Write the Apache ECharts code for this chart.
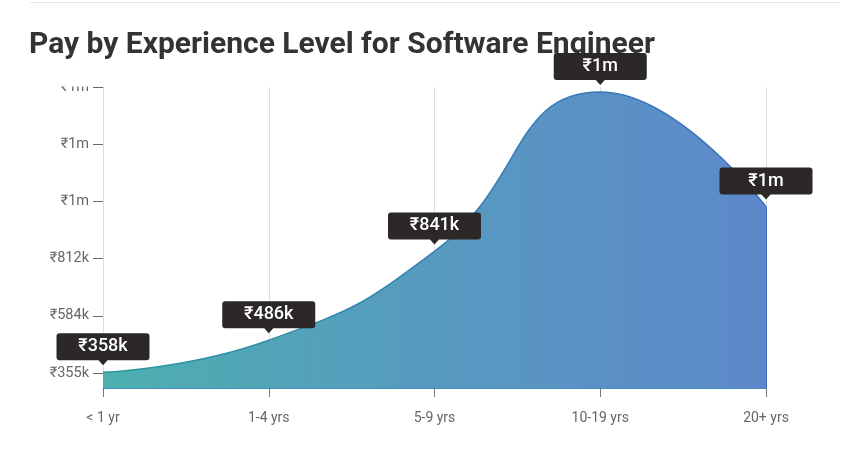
<!DOCTYPE html>
<html>
<head>
<meta charset="utf-8">
<script src="https://cdn.jsdelivr.net/npm/echarts@6/dist/echarts.min.js"></script>
<style>html,body{margin:0;padding:0;background:#fff}#c{width:858px;height:455px}</style>
</head>
<body>
<div id="c"></div>
<script>
const categories = ["< 1 yr", "1-4 yrs", "5-9 yrs", "10-19 yrs", "20+ yrs"];
const payK = [358, 486, 841, 1478, 1020];
const payLabels = ["₹358k", "₹486k", "₹841k", "₹1m", "₹1m"];
const yTickValues = [355, 583.6, 812.2, 1040.8, 1269.4, 1498];
const yTickLabels = ["₹355k", "₹584k", "₹812k", "₹1m", "₹1m", "₹1m"];

const chart = echarts.init(document.getElementById('c'), null, {renderer: 'canvas'});
const fillGrad = new echarts.graphic.LinearGradient(0, 0, 1, 0, [
  {offset: 0, color: '#43abaa'},
  {offset: 0.5, color: '#4e94bd'},
  {offset: 1, color: '#5482c7'}
]);
const lineGrad = new echarts.graphic.LinearGradient(0, 0, 1, 0, [
  {offset: 0, color: '#2b9a9c'},
  {offset: 0.5, color: '#347fb2'},
  {offset: 1, color: '#3a6fbd'}
]);
const bubble = 'path://M3,0 H90 Q93,0 93,3 V24 Q93,27 90,27 H51 L46.5,32 L42,27 H3 Q0,27 0,24 V3 Q0,0 3,0 Z';

chart.setOption({
  animation: false,
  textStyle: {fontFamily: 'Roboto, "Noto Sans", sans-serif'},
  title: {
    text: 'Pay by Experience Level for Software Engineer',
    left: 24, top: 25, z: 0,
    textStyle: {fontSize: 30, fontWeight: 'bold', color: '#333', fontFamily: 'Roboto, "Noto Sans", sans-serif'}
  },
  graphic: [
    {type: 'line', z: 0, shape: {x1: 30, y1: 2.5, x2: 840, y2: 2.5}, style: {stroke: '#e8e8e8', lineWidth: 1}},
    {type: 'rect', z: 50, left: 36, top: 68, shape: {width: 64, height: 18.5}, style: {fill: '#fff'}}
  ],
  grid: {left: 103, right: 92, top: 87, bottom: 67},
  xAxis: {
    type: 'category',
    data: categories,
    boundaryGap: false,
    axisLine: {show: true, lineStyle: {color: '#4a8fbb', width: 1}},
    axisTick: {show: true, alignWithLabel: true, length: 9, lineStyle: {color: '#777'}},
    axisLabel: {color: '#666', fontSize: 14, margin: 23},
    splitLine: {show: true, lineStyle: {color: '#ddd', width: 1}}
  },
  yAxis: {
    type: 'value',
    min: 295, max: 1498,
    axisLine: {show: true, lineStyle: {color: '#ddd'}},
    axisTick: {show: true, length: 10, customValues: yTickValues, lineStyle: {color: '#666'}},
    axisLabel: {
      color: '#666', fontSize: 14.5, margin: 14,
      customValues: yTickValues,
      formatter: function (v) {
        let best = 0;
        for (let i = 0; i < yTickValues.length; i++) if (Math.abs(yTickValues[i] - v) < Math.abs(yTickValues[best] - v)) best = i;
        return yTickLabels[best];
      }
    },
    splitLine: {show: false}
  },
  series: [
    {
      type: 'line',
      data: payK,
      smooth: 0.5,
      symbol: 'none',
      z: 2,
      lineStyle: {color: lineGrad, width: 1.5},
      areaStyle: {color: fillGrad, opacity: 0.95},
      markLine: {
        silent: true, symbol: 'none', label: {show: false},
        lineStyle: {color: '#3a6fbd', width: 1, type: 'solid'},
        data: [[{coord: [categories[4], 295]}, {coord: [categories[4], payK[4]]}]]
      }
    },
    {
      type: 'scatter',
      data: payK,
      clip: false,
      z: 10,
      symbol: bubble,
      symbolSize: [93, 32],
      symbolOffset: [0, -23],
      itemStyle: {color: '#2b2827', opacity: 1},
      label: {
        show: true, position: 'inside', offset: [0, -2.5],
        color: '#fff', fontSize: 18, fontWeight: 500,
        formatter: function (p) { return payLabels[p.dataIndex]; }
      }
    }
  ]
});
</script>
</body>
</html>
